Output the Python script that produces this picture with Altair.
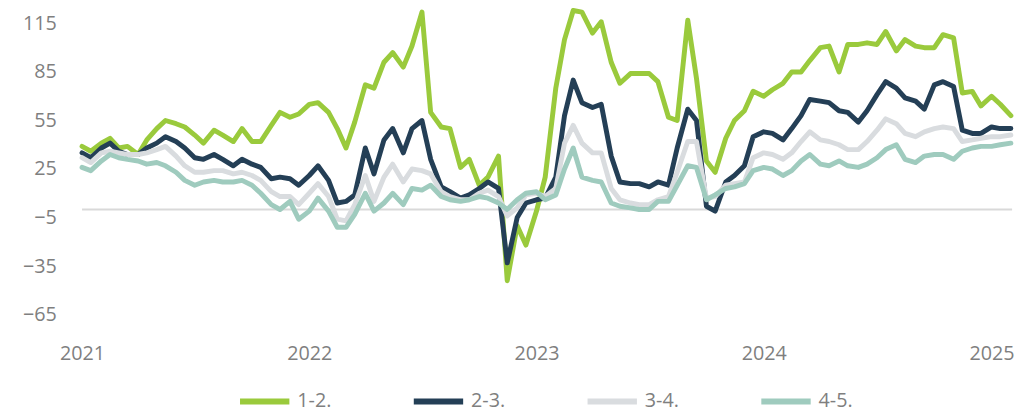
import altair as alt
import pandas as pd

series_names = ["1-2.", "2-3.", "3-4.", "4-5."]
series_colors = ["#9ACA3C", "#243F56", "#D9DCDF", "#9FCBBE"]

# semi-monthly observation dates (1st and 15th), Jan 2021 - Feb 2025
dates = pd.date_range("2021-01-01", periods=99, freq="SMS")

s12 = [39, 36, 41, 44, 38, 39, 34, 43, 50, 55, 53, 51, 46, 41, 49, 46, 42, 50, 42, 42,
       52, 60, 57, 59, 65, 66, 60, 50, 38, 54, 77, 75, 91, 97, 88, 101, 122, 60, 51, 50,
       26, 31, 15, 20, 33, -44, -10, -22, -1, 20, 75, 105, 123, 122, 109, 116, 91, 78, 84, 84,
       84, 79, 57, 55, 117, 81, 30, 23, 44, 55, 61, 73, 70, 74, 78, 85, 85, 92, 100, 101,
       85, 102, 102, 103, 102, 110, 98, 105, 101, 100, 100, 108, 106, 72, 73, 64, 70, 65, 58]
s23 = [35, 32, 38, 41, 36, 34, 34, 38, 41, 45, 42, 38, 32, 31, 34, 31, 27, 31, 28, 26,
       19, 20, 19, 15, 21, 27, 18, 4, 5, 9, 38, 22, 43, 50, 35, 50, 55, 31, 14, 11,
       7, 9, 13, 17, 13, -33, -5, 4, 6, 7, 20, 58, 80, 66, 63, 65, 33, 17, 16, 16,
       14, 17, 15, 38, 62, 55, 2, -1, 17, 21, 27, 45, 48, 47, 43, 50, 58, 68, 67, 66,
       61, 60, 54, 61, 71, 79, 75, 69, 67, 62, 77, 79, 76, 49, 47, 47, 51, 50, 50]
s34 = [32, 29, 35, 36, 35, 34, 34, 35, 37, 39, 33, 27, 23, 23, 24, 24, 22, 23, 21, 18,
       11, 8, 8, 3, 10, 16, 8, -6, -7, 3, 21, 5, 20, 28, 17, 25, 24, 22, 11, 8,
       6, 6, 10, 12, 8, -4, 1, 9, 10, 8, 13, 41, 52, 41, 35, 35, 13, 6, 4, 3,
       3, 6, 8, 23, 42, 42, 7, 8, 15, 16, 17, 32, 35, 34, 31, 35, 42, 48, 43, 42,
       40, 37, 37, 42, 49, 56, 53, 47, 45, 48, 50, 51, 50, 42, 43, 44, 45, 45, 46]
s45 = [26, 24, 30, 34, 32, 31, 30, 28, 29, 27, 23, 18, 15, 17, 18, 17, 17, 18, 15, 10,
       3, 0, 5, -6, -1, 7, -1, -11, -11, -3, 10, -1, 4, 10, 3, 13, 12, 15, 8, 6,
       5, 6, 8, 7, 4, 0, 6, 10, 11, 6, 9, 25, 38, 20, 18, 17, 4, 2, 1, 0,
       0, 5, 5, 15, 27, 26, 6, 9, 13, 14, 16, 24, 26, 25, 21, 24, 30, 34, 28, 27,
       30, 27, 26, 28, 32, 37, 40, 31, 29, 33, 34, 34, 31, 36, 38, 39, 39, 40, 41]

y_ticks = [115, 85, 55, 25, -5, -35, -65]
x_years = [2021, 2022, 2023, 2024, 2025]

frames = []
for name, vals in zip(series_names, [s12, s23, s34, s45]):
    frames.append(pd.DataFrame({"date": dates, "value": vals, "series": name}))
df = pd.concat(frames, ignore_index=True)

FONT = "Open Sans"
GRAY = "#7F7F7F"
FS = 20

x_enc = alt.X(
    "date:T",
    title=None,
    scale=alt.Scale(domain=[alt.DateTime(year=2021, month=1, date=1),
                            alt.DateTime(year=2025, month=2, date=3)]),
    axis=alt.Axis(values=[alt.DateTime(year=y, month=1, date=1) for y in x_years],
                  format="%Y", domain=False, ticks=False, grid=False,
                  labelFont=FONT, labelFontSize=FS, labelColor=GRAY,
                  labelPadding=29, labelFlush=False),
)
y_enc = alt.Y(
    "value:Q",
    title=None,
    scale=alt.Scale(domain=[-65, 115], nice=False, zero=False),
    axis=alt.Axis(values=y_ticks, domain=False, ticks=False, grid=False,
                  labelFont=FONT, labelFontSize=FS, labelColor=GRAY,
                  labelPadding=26, labelFlush=False),
)
color_enc = alt.Color(
    "series:N",
    scale=alt.Scale(domain=series_names, range=series_colors),
    legend=alt.Legend(title=None, orient="none", direction="horizontal",
                      legendX=157, legendY=355,
                      symbolType="stroke", symbolSize=2500, symbolStrokeWidth=6,
                      labelFont=FONT, labelFontSize=FS, labelColor=GRAY,
                      labelOffset=5, columnPadding=71),
)

zero_rule = alt.Chart(pd.DataFrame({"value": [0]})).mark_rule(
    color="#D9D9D9", strokeWidth=2
).encode(y=alt.Y("value:Q", title=None))

layers = [zero_rule]
for name in series_names:
    layers.append(
        alt.Chart(df).transform_filter(alt.datum.series == name).mark_line(
            strokeWidth=5, strokeCap="round", strokeJoin="round"
        ).encode(x=x_enc, y=y_enc, color=color_enc)
    )

chart = alt.layer(*layers).properties(
    width=942, height=295,
    padding={"left": 75, "top": 13, "right": 8, "bottom": 97},
    autosize=alt.AutoSizeParams(type="none"),
).configure_view(stroke=None)

chart.save("out.html", embed_options={"renderer": "svg", "actions": False})
